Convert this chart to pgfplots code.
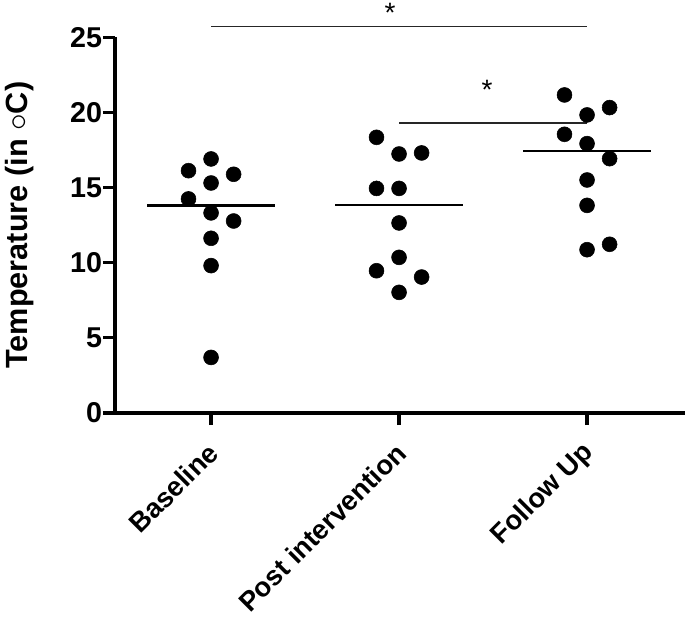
\documentclass[border=0pt]{standalone}
\usepackage{fontspec}
\setmainfont{Liberation Sans}
\usepackage{pgfplots}
\pgfplotsset{compat=1.18}
\begin{document}
\begin{tikzpicture}
\begin{axis}[
  name=ax,
  scale only axis, width=427.5pt, height=281.7pt,
  xmin=-0.511, xmax=2.521, ymin=0, ymax=25,
  axis x line*=bottom, axis y line*=left,
  axis line style={line width=2.4pt, black},
  ytick={0,5,10,15,20,25},
  xtick={0,1,2}, xticklabels={Baseline,Post intervention,Follow Up},
  tick style={line width=2.4pt, black},
  tick align=outside, major tick length=9pt,
  clip=false,
  /pgf/number format/assume math mode=true,
  yticklabel style={font=\fontsize{21.5}{24}\selectfont\bfseries, inner sep=0.5pt},
  xticklabel style={font=\fontsize{20.5}{24}\selectfont\bfseries, xshift=3pt, yshift=-16pt, rotate=45, anchor=east, inner sep=2pt},
  ylabel={Temperature (in $\circ$C)},
  ylabel style={font=\fontsize{23}{26}\selectfont\bfseries, at={(axis description cs:-0.168,0.5)}, anchor=center},
]
\addplot[only marks, mark=*, mark size=5.6pt, black] coordinates {
 (0,16.91) (-0.12,16.13) (0.12,15.89) (0,15.31) (-0.12,14.25) (0,13.32) (0.12,12.78) (0,11.63) (0,9.81) (0,3.70)
};
\addplot[only marks, mark=*, mark size=5.6pt, black] coordinates {
 (0.88,18.35) (1,17.24) (1.12,17.31) (0.88,14.95) (1,14.95) (1,12.65) (1,10.36) (0.88,9.47) (1.12,9.05) (1,8.03)
};
\addplot[only marks, mark=*, mark size=5.6pt, black] coordinates {
 (1.88,21.17) (2.12,20.33) (2,19.84) (1.88,18.55) (2,17.93) (2.12,16.93) (2,15.51) (2,13.82) (2.12,11.23) (2,10.87)
};
% medians
\addplot[black, line width=2pt] coordinates {(-0.34,13.80) (0.34,13.80)};
\addplot[black, line width=2pt] coordinates {(0.66,13.85) (1.34,13.85)};
\addplot[black, line width=2pt] coordinates {(1.66,17.44) (2.34,17.44)};
% significance bars
\addplot[black!85, line width=1.1pt] coordinates {(0,25.74) (2,25.74)};
\addplot[black!85, line width=1.1pt] coordinates {(1,19.31) (2,19.31)};
\node[anchor=north, inner sep=0pt, font=\fontsize{21}{24}\selectfont] at (axis cs:0.952,27.3) {*};
\node[anchor=north, inner sep=0pt, font=\fontsize{21}{24}\selectfont] at (axis cs:1.468,22.19) {*};
\end{axis}
\pgfresetboundingbox
\useasboundingbox ([xshift=-86.25pt,yshift=-154.5pt]ax.south west) rectangle ([yshift=309.75pt]ax.south east);
\end{tikzpicture}
\end{document}
